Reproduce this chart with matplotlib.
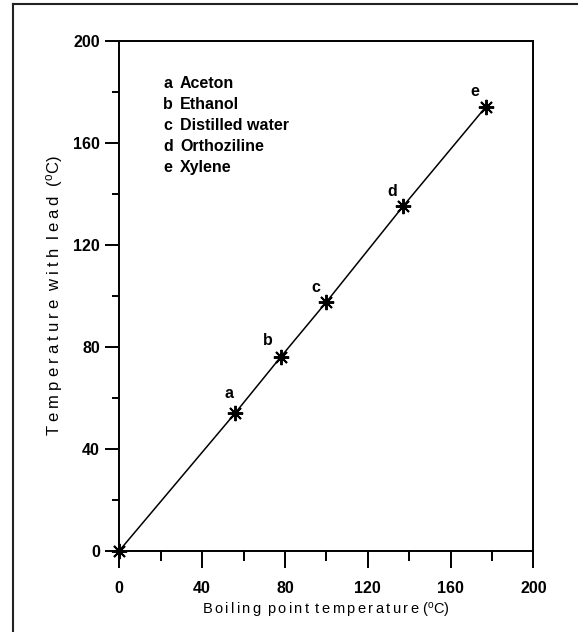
import matplotlib
matplotlib.use("Agg")
import matplotlib.pyplot as plt
from matplotlib.lines import Line2D

# Boiling point vs. temperature measured with the lead
boiling_point = [0, 56, 78, 100, 137, 177]
temp_with_lead = [0, 54, 76, 97.5, 135, 174]
point_tags = ["", "a", "b", "c", "d", "e"]

legend_tags = ["a", "b", "c", "d", "e"]
legend_names = ["Aceton", "Ethanol", "Distilled water", "Orthoziline", "Xylene"]

x_ticks = [0, 40, 80, 120, 160, 200]
y_ticks = [0, 40, 80, 120, 160, 200]

x_title = "Boiling point temperature"
y_title = "Temperature with lead"

bold_font = ["Liberation Sans Narrow", "Liberation Sans", "DejaVu Sans"]
plain_font = ["Liberation Sans", "DejaVu Sans"]
plt.rcParams["mathtext.fontset"] = "custom"
plt.rcParams["mathtext.rm"] = "Liberation Sans"
plt.rcParams["mathtext.it"] = "Liberation Sans"


def spaced(s, gap):
    # widen the tracking of an axis title with narrow spaces
    return (" " + gap).join(gap.join(w) for w in s.split(" "))


fig = plt.figure(figsize=(5.78, 6.32), dpi=100)
ax = fig.add_axes([0.2064, 0.1286, 0.7163, 0.8070])

ax.plot(boiling_point, temp_with_lead, color="black", lw=1.1,
        marker=(8, 2, 0), markersize=11, markeredgewidth=1.4,
        clip_on=False, zorder=3)

# tag each sample above-left of its point
tag_offsets = [(0, 0), (-4.5, 14), (-9, 11.5), (-7.5, 10.5), (-7.5, 11), (-8, 11.5)]
for x, y, t, off in zip(boiling_point, temp_with_lead, point_tags, tag_offsets):
    if t:
        ax.annotate(t, (x, y), xytext=off, textcoords="offset points",
                    ha="center", va="center", fontsize=11.5,
                    fontweight="bold", family=bold_font)

# key of sample names
for i, (t, n) in enumerate(zip(legend_tags, legend_names)):
    yb = 0.9078 - i * 0.0412
    ax.text(0.1056, yb, t, transform=ax.transAxes, va="baseline",
            ha="left", fontsize=11.5, fontweight="bold", family=bold_font)
    ax.text(0.1466, yb, n, transform=ax.transAxes, va="baseline",
            ha="left", fontsize=11.5, fontweight="bold", family=bold_font)

ax.set_xlim(0, 200)
ax.set_ylim(0, 200)
ax.set_xticks(x_ticks)
ax.set_yticks(y_ticks)
ax.set_xticks([20, 60, 100, 140, 180], minor=True)
ax.set_yticks([20, 60, 100, 140, 180], minor=True)
ax.set_xticklabels([str(v) for v in x_ticks])
ax.set_yticklabels([str(v) for v in y_ticks])

for lab in ax.get_xticklabels() + ax.get_yticklabels():
    lab.set_fontfamily(bold_font)
    lab.set_fontweight("bold")
    lab.set_fontsize(11.5)

ax.tick_params(axis="x", which="major", direction="out", length=12.5,
               width=1.4, pad=9)
ax.tick_params(axis="x", which="minor", direction="out", length=7, width=1.4)
ax.tick_params(axis="y", which="major", direction="out", length=10,
               width=1.4, pad=4)
ax.tick_params(axis="y", which="minor", direction="out", length=5, width=1.4)

for s in ax.spines.values():
    s.set_linewidth(1.4)

ax.set_xlabel(spaced(x_title, "\u2006") + r" ($^{\mathrm{o}}$C)",
              fontsize=10.5, family=plain_font, labelpad=4)
ax.set_ylabel(spaced(y_title, "\u2005") + r"  ($^{\mathrm{o}}$C)",
              fontsize=12, family=plain_font, labelpad=6)

# outer frame around the figure
fig.add_artist(Line2D([13 / 578, 1.0], [1 - 4 / 632, 1 - 4 / 632],
                      transform=fig.transFigure, color="#222222", lw=1.5))
fig.add_artist(Line2D([13 / 578, 13 / 578], [0.0, 1 - 4 / 632],
                      transform=fig.transFigure, color="#222222", lw=1.5))

fig.savefig("out.png", dpi=100)
